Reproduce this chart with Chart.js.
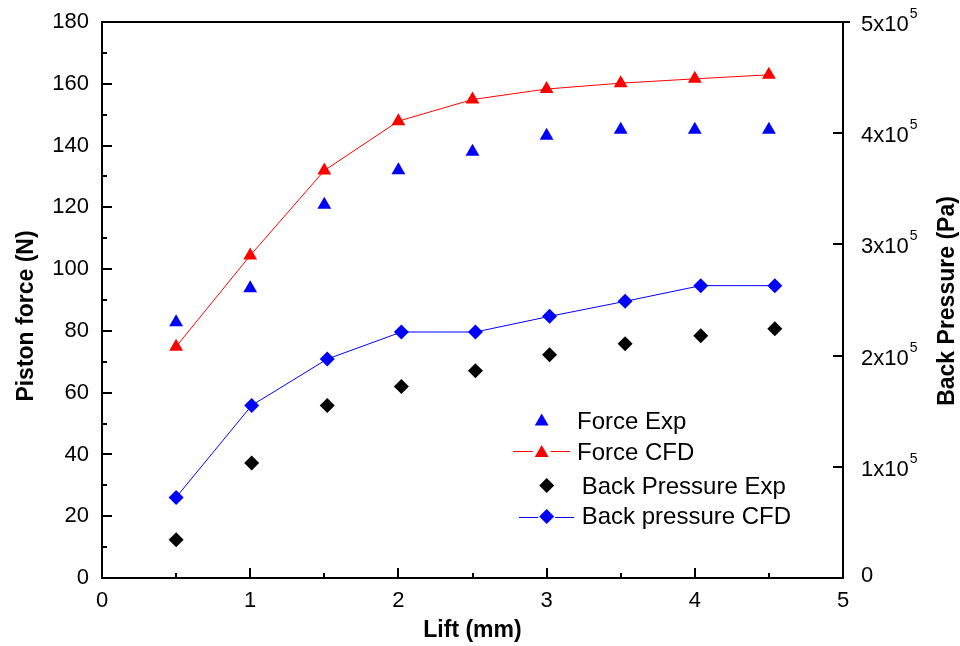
<!DOCTYPE html>
<html>
<head>
<meta charset="utf-8">
<script src="https://cdn.jsdelivr.net/npm/chart.js@4.4.1/dist/chart.umd.min.js"></script>
<style>
  html, body { margin: 0; padding: 0; background: #ffffff; }
  canvas { display: block; }
</style>
</head>
<body>
<canvas id="chart" width="960" height="646"></canvas>
<script>
// Lift positions (mm) for the force measurements and the pressure measurements
const liftForce    = [0.5, 1.0, 1.5, 2.0, 2.5, 3.0, 3.5, 4.0, 4.5];
const liftPressure = [0.5, 1.01, 1.52, 2.02, 2.52, 3.02, 3.53, 4.04, 4.54];

// Piston force (N)
const forceExp = [82.8, 93.8, 120.8, 132.0, 138.0, 143.2, 145.1, 145.1, 145.1];
const forceCfd = [74.9, 104.4, 131.9, 147.9, 154.9, 158.3, 160.2, 161.6, 162.9];

// Back pressure (Pa)
const pressureExp = [34400, 103400, 155200, 172300, 186400, 200800, 210700, 217900, 224200];
const pressureCfd = [72500, 155200, 196900, 221200, 221200, 235300, 248800, 262900, 262900];

// Axis titles and legend labels
const xTitle = 'Lift (mm)';
const leftTitle = 'Piston force (N)';
const rightTitle = 'Back Pressure (Pa)';
const seriesNames = ['Force Exp', 'Force CFD', 'Back Pressure Exp', 'Back pressure CFD'];

// Right-axis tick labels are written as mantissa x 10^exponent
const pressureExponent = 5;

const FONT = '"Liberation Sans", Arial, Helvetica, sans-serif';

const toPoints = (xs, ys) => xs.map((x, i) => ({ x: x, y: ys[i] }));

function markerPath(ctx, style, x, y, r) {
  ctx.beginPath();
  if (style === 'triangle') {
    ctx.moveTo(x, y - r);
    ctx.lineTo(x + r * Math.sin(2 * Math.PI / 3), y - r * Math.cos(2 * Math.PI / 3));
    ctx.lineTo(x - r * Math.sin(2 * Math.PI / 3), y - r * Math.cos(2 * Math.PI / 3));
  } else {
    ctx.moveTo(x, y - r);
    ctx.lineTo(x + r, y);
    ctx.lineTo(x, y + r);
    ctx.lineTo(x - r, y);
  }
  ctx.closePath();
}

// Keep the plot box fixed: the axes get set sizes and no extra label padding
function fixVertical(width) {
  return s => { s.width = width; s.paddingTop = 0; s.paddingBottom = 0; };
}

// Frame, inward tick marks, right tick labels with superscripts, titles, legend
const decorations = {
  id: 'decorations',
  afterDatasetsDraw(chart) {
    const ctx = chart.ctx;
    const a = chart.chartArea;
    const sx = chart.scales.x;
    const sl = chart.scales.yForce;
    const sr = chart.scales.yPressure;
    ctx.save();

    // plot frame
    ctx.strokeStyle = '#000';
    ctx.lineWidth = 2;
    ctx.beginPath();
    ctx.moveTo(a.left, a.top);
    ctx.lineTo(a.left, a.bottom);
    ctx.lineTo(a.right, a.bottom);
    ctx.lineTo(a.right, a.top);
    ctx.moveTo(a.left - 1, a.top);
    ctx.lineTo(a.right + 7, a.top);
    ctx.stroke();

    // tick marks pointing into the plot
    ctx.beginPath();
    sx.ticks.forEach(t => {
      const p = Math.round(sx.getPixelForValue(t.value));
      const len = Math.abs(t.value - Math.round(t.value)) < 1e-9 ? 10 : 5;
      ctx.moveTo(p, a.bottom);
      ctx.lineTo(p, a.bottom - len);
    });
    sl.ticks.forEach(t => {
      const p = Math.round(sl.getPixelForValue(t.value));
      const len = t.value % 20 === 0 ? 10 : 5;
      ctx.moveTo(a.left, p);
      ctx.lineTo(a.left + len, p);
    });
    sr.ticks.forEach(t => {
      const p = Math.round(sr.getPixelForValue(t.value));
      ctx.moveTo(a.right, p);
      ctx.lineTo(a.right - 10, p);
    });
    ctx.stroke();

    // right tick labels: "Nx10" with a raised exponent
    ctx.fillStyle = '#000';
    ctx.textAlign = 'left';
    ctx.textBaseline = 'alphabetic';
    const scaleFactor = Math.pow(10, pressureExponent);
    sr.ticks.forEach(t => {
      const p = sr.getPixelForValue(t.value);
      const m = Math.round(t.value / scaleFactor);
      const lx = a.right + 18;
      ctx.font = '22px ' + FONT;
      if (m === 0) {
        ctx.fillText('0', lx, p + 3.5);
      } else {
        const base = m + 'x10';
        ctx.fillText(base, lx, p + 9);
        const w = ctx.measureText(base).width;
        ctx.font = '14px ' + FONT;
        ctx.fillText(String(pressureExponent), lx + w + 1, p - 4);
      }
    });

    // axis titles
    ctx.font = 'bold 23px ' + FONT;
    ctx.textAlign = 'center';
    ctx.fillText(xTitle, (a.left + a.right) / 2, 637);
    ctx.save();
    ctx.translate(32.5, 316);
    ctx.rotate(-Math.PI / 2);
    ctx.fillText(leftTitle, 0, 0);
    ctx.restore();
    ctx.save();
    ctx.translate(954, 301);
    ctx.rotate(-Math.PI / 2);
    ctx.fillText(rightTitle, 0, 0);
    ctx.restore();

    // legend
    const ds = chart.data.datasets;
    const rows = [
      { d: ds[0], mx: 541.7, my: 419.5, line: null, tx: 577, ty: 428.5 },
      { d: ds[1], mx: 541.7, my: 451, line: [513, 570], tx: 577, ty: 460 },
      { d: ds[2], mx: 546.7, my: 485.5, line: null, tx: 581.7, ty: 494 },
      { d: ds[3], mx: 546.7, my: 516.5, line: [519, 574], tx: 581.7, ty: 524 }
    ];
    rows.forEach(r => {
      if (r.line) {
        ctx.strokeStyle = r.d.borderColor;
        ctx.lineWidth = 1;
        ctx.beginPath();
        const gap = r.d.pointRadius + 1;
        const yy = Math.round(r.my) + 0.5;
        ctx.moveTo(r.line[0], yy);
        ctx.lineTo(r.mx - gap, yy);
        ctx.moveTo(r.mx + gap, yy);
        ctx.lineTo(r.line[1], yy);
        ctx.stroke();
      }
      ctx.fillStyle = r.d.pointBackgroundColor;
      markerPath(ctx, r.d.pointStyle, r.mx, r.my + (r.d.pointStyle === 'triangle' ? 2 : 0), r.d.pointRadius);
      ctx.fill();
      ctx.fillStyle = '#000';
      ctx.font = '24px ' + FONT;
      ctx.textAlign = 'left';
      ctx.fillText(r.d.label, r.tx, r.ty);
    });

    ctx.restore();
  }
};

const tickFont = { family: FONT, size: 22 };

new Chart(document.getElementById('chart').getContext('2d'), {
  type: 'scatter',
  data: {
    datasets: [
      {
        label: seriesNames[0],
        data: toPoints(liftForce, forceExp),
        yAxisID: 'yForce',
        showLine: false,
        pointStyle: 'triangle',
        pointRadius: 8,
        pointBackgroundColor: '#0000ff',
        pointBorderColor: '#0000ff',
        pointBorderWidth: 0,
        borderColor: '#0000ff'
      },
      {
        label: seriesNames[1],
        data: toPoints(liftForce, forceCfd),
        yAxisID: 'yForce',
        showLine: true,
        borderColor: '#ff0000',
        borderWidth: 1,
        pointStyle: 'triangle',
        pointRadius: 8,
        pointBackgroundColor: '#ff0000',
        pointBorderColor: '#ff0000',
        pointBorderWidth: 0
      },
      {
        label: seriesNames[2],
        data: toPoints(liftPressure, pressureExp),
        yAxisID: 'yPressure',
        showLine: false,
        pointStyle: 'rectRot',
        pointRadius: 7.5,
        pointBackgroundColor: '#000000',
        pointBorderColor: '#000000',
        pointBorderWidth: 0,
        borderColor: '#000000'
      },
      {
        label: seriesNames[3],
        data: toPoints(liftPressure, pressureCfd),
        yAxisID: 'yPressure',
        showLine: true,
        borderColor: '#0000ff',
        borderWidth: 1,
        pointStyle: 'rectRot',
        pointRadius: 7.5,
        pointBackgroundColor: '#0000ff',
        pointBorderColor: '#0000ff',
        pointBorderWidth: 0
      }
    ]
  },
  options: {
    responsive: false,
    animation: false,
    layout: { padding: { top: 22, left: 0, right: 0, bottom: 0 } },
    plugins: {
      legend: { display: false },
      tooltip: { enabled: false }
    },
    scales: {
      x: {
        type: 'linear',
        position: 'bottom',
        min: 0,
        max: 5,
        afterFit(s) { s.height = 68; s.paddingLeft = 0; s.paddingRight = 0; },
        grid: { display: false, drawTicks: false },
        border: { display: false },
        ticks: {
          stepSize: 0.5,
          autoSkip: false,
          maxRotation: 0,
          padding: 10,
          color: '#000',
          font: tickFont,
          callback: v => (Math.abs(v - Math.round(v)) < 1e-9 ? String(Math.round(v)) : '')
        }
      },
      yForce: {
        type: 'linear',
        position: 'left',
        min: 0,
        max: 180,
        afterFit: fixVertical(102),
        grid: { display: false, drawTicks: false },
        border: { display: false },
        ticks: {
          stepSize: 10,
          autoSkip: false,
          padding: 13,
          color: '#000',
          font: tickFont,
          callback: v => (v % 20 === 0 ? String(v) : '')
        }
      },
      yPressure: {
        type: 'linear',
        position: 'right',
        min: 0,
        max: 500000,
        afterFit: fixVertical(117),
        grid: { display: false, drawTicks: false },
        border: { display: false },
        ticks: { stepSize: 100000, display: false }
      }
    }
  },
  plugins: [decorations]
});
</script>
</body>
</html>
